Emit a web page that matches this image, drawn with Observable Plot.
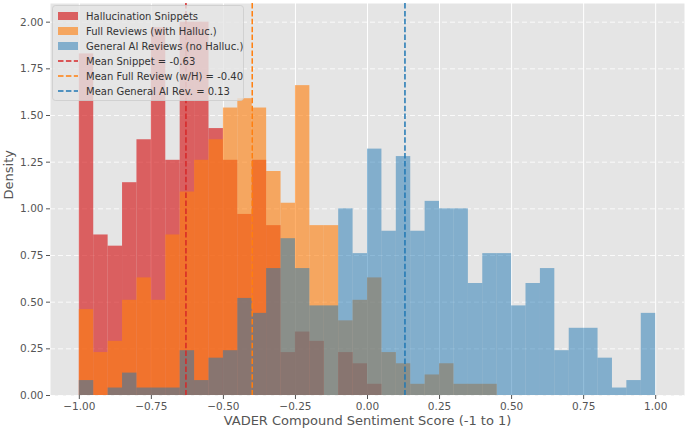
<!DOCTYPE html>
<html><head><meta charset="utf-8">
<script src="https://cdn.jsdelivr.net/npm/d3@7"></script>
<script src="https://cdn.jsdelivr.net/npm/@observablehq/plot@0.6"></script>
<style>body{margin:0;background:#fff;} svg{display:block;}</style>
</head><body><div id="chart"></div>
<script>
const binEdges = [-1.00,-0.95,-0.90,-0.85,-0.80,-0.75,-0.70,-0.65,-0.60,-0.55,-0.50,-0.45,-0.40,-0.35,-0.30,-0.25,-0.20,-0.15,-0.10,-0.05,0.00,0.05,0.10,0.15,0.20,0.25,0.30,0.35,0.40,0.45,0.50,0.55,0.60,0.65,0.70,0.75,0.80,0.85,0.90,0.95,1.00];
const snippetDensity = [1.83,0.86,0.80,1.14,1.37,1.97,1.26,2.00,2.00,1.43,1.26,0.97,1.26,0.91,0.23,0.34,0.29,0,0.23,0.17,0.06,0,0,0,0,0,0,0,0,0,0,0,0,0,0,0,0,0,0,0];
const fullReviewDensity = [0.46,0.23,0.29,0.51,0.63,0.51,0.86,1.09,1.26,1.37,1.54,1.59,1.54,1.20,1.03,1.66,0.91,0.91,0.40,0.51,0.63,0.23,0.17,0.06,0.11,0.17,0.06,0.06,0.06,0,0,0,0,0,0,0,0,0,0,0];
const generalDensity = [0.08,0,0.04,0.12,0.04,0.04,0.04,0.24,0.08,0.20,0.24,0.52,0.44,0.68,0.84,0.68,0.48,0.48,1.00,0.76,1.32,0.88,1.28,0.88,1.04,1.00,1.00,0.60,0.76,0.76,0.48,0.60,0.68,0.24,0.36,0.36,0.20,0.04,0.08,0.44];
const seriesNames = ["Hallucination Snippets","Full Reviews (with Halluc.)","General AI Reviews (no Halluc.)"];
const seriesColors = ["#d62728","#ff7f0e","#1f77b4"];
const seriesOpacity = [0.7,0.62,0.5];
const meanValues = [-0.63,-0.40,0.13];
const meanLabels = ["Mean Snippet = -0.63","Mean Full Review (w/H) = -0.40","Mean General AI Rev. = 0.13"];
const xTicks = [-1,-0.75,-0.5,-0.25,0,0.25,0.5,0.75,1];
const yTicks = [0,0.25,0.5,0.75,1,1.25,1.5,1.75,2];
const xLabel = "VADER Compound Sentiment Score (-1 to 1)";
const yLabel = "Density";

const seriesValues = [snippetDensity, fullReviewDensity, generalDensity];
const toBins = vals => vals.map((v,i)=>({x1:binEdges[i], x2:binEdges[i+1], y:v}));

const histMarks = seriesValues.map((vals,k)=>Plot.rectY(toBins(vals),{x1:"x1",x2:"x2",y:"y",fill:seriesColors[k],fillOpacity:seriesOpacity[k],inset:0}));
const meanMarks = meanValues.map((m,k)=>Plot.ruleX([m],{stroke:seriesColors[k],strokeWidth:1.5,strokeDasharray:"5.5,2.4"}));

const chart = Plot.plot({
  width:685, height:432, marginLeft:50, marginRight:1, marginTop:3, marginBottom:37,
  style:{fontFamily:"DejaVu Sans", fontSize:"10.5px", color:"#555", background:"#fff"},
  x:{domain:[-1.1,1.1]},
  y:{domain:[0,2.1]},
  marks:[
    Plot.frame({fill:"#e5e5e5", stroke:null}),
    Plot.gridX(xTicks,{stroke:"#fff",strokeOpacity:1,strokeWidth:1}),
    Plot.gridY(yTicks,{stroke:"#fff",strokeOpacity:0.9,strokeWidth:0.9,strokeDasharray:"5,3"}),
    ...histMarks,
    ...meanMarks,
    Plot.axisX(xTicks,{tickFormat:d3.format(".2f"),tickSize:4,tickPadding:3,label:null,stroke:"#555",fill:"#555"}),
    Plot.axisY(yTicks,{tickFormat:d3.format(".2f"),tickSize:4,tickPadding:3,label:null,stroke:"#555",fill:"#555"}),
    Plot.text([xLabel],{frameAnchor:"bottom",dy:29,fontSize:13,fill:"#555"}),
    Plot.text([yLabel],{frameAnchor:"left",dx:-42,rotate:-90,fontSize:13,fill:"#555"})
  ]
});
document.getElementById("chart").appendChild(chart);

// legend (inside axes, upper left)
const svg = d3.select(chart);
const lg = svg.append("g").attr("font-family","DejaVu Sans").attr("font-size","10px").attr("text-anchor","start");
lg.append("rect").attr("x",52.5).attr("y",5.5).attr("width",191).attr("height",95).attr("rx",3)
  .attr("fill","#e5e5e5").attr("fill-opacity",0.8).attr("stroke","#cccccc").attr("stroke-opacity",0.8);
const rowY = i => 16 + 15*i;
seriesNames.forEach((name,k)=>{
  lg.append("rect").attr("x",58).attr("y",rowY(k)-4).attr("width",20).attr("height",8)
    .attr("fill",seriesColors[k]).attr("fill-opacity",seriesOpacity[k]);
  lg.append("text").attr("x",86).attr("y",rowY(k)).attr("dy","0.35em").attr("text-anchor","start").attr("fill","#333").text(name);
});
meanLabels.forEach((name,k)=>{
  const r = rowY(k+3);
  lg.append("line").attr("x1",58).attr("x2",78).attr("y1",r).attr("y2",r)
    .attr("stroke",seriesColors[k]).attr("stroke-width",1.5).attr("stroke-dasharray","5.5,2.4");
  lg.append("text").attr("x",86).attr("y",r).attr("dy","0.35em").attr("text-anchor","start").attr("fill","#333").text(name);
});
</script>
</body></html>
